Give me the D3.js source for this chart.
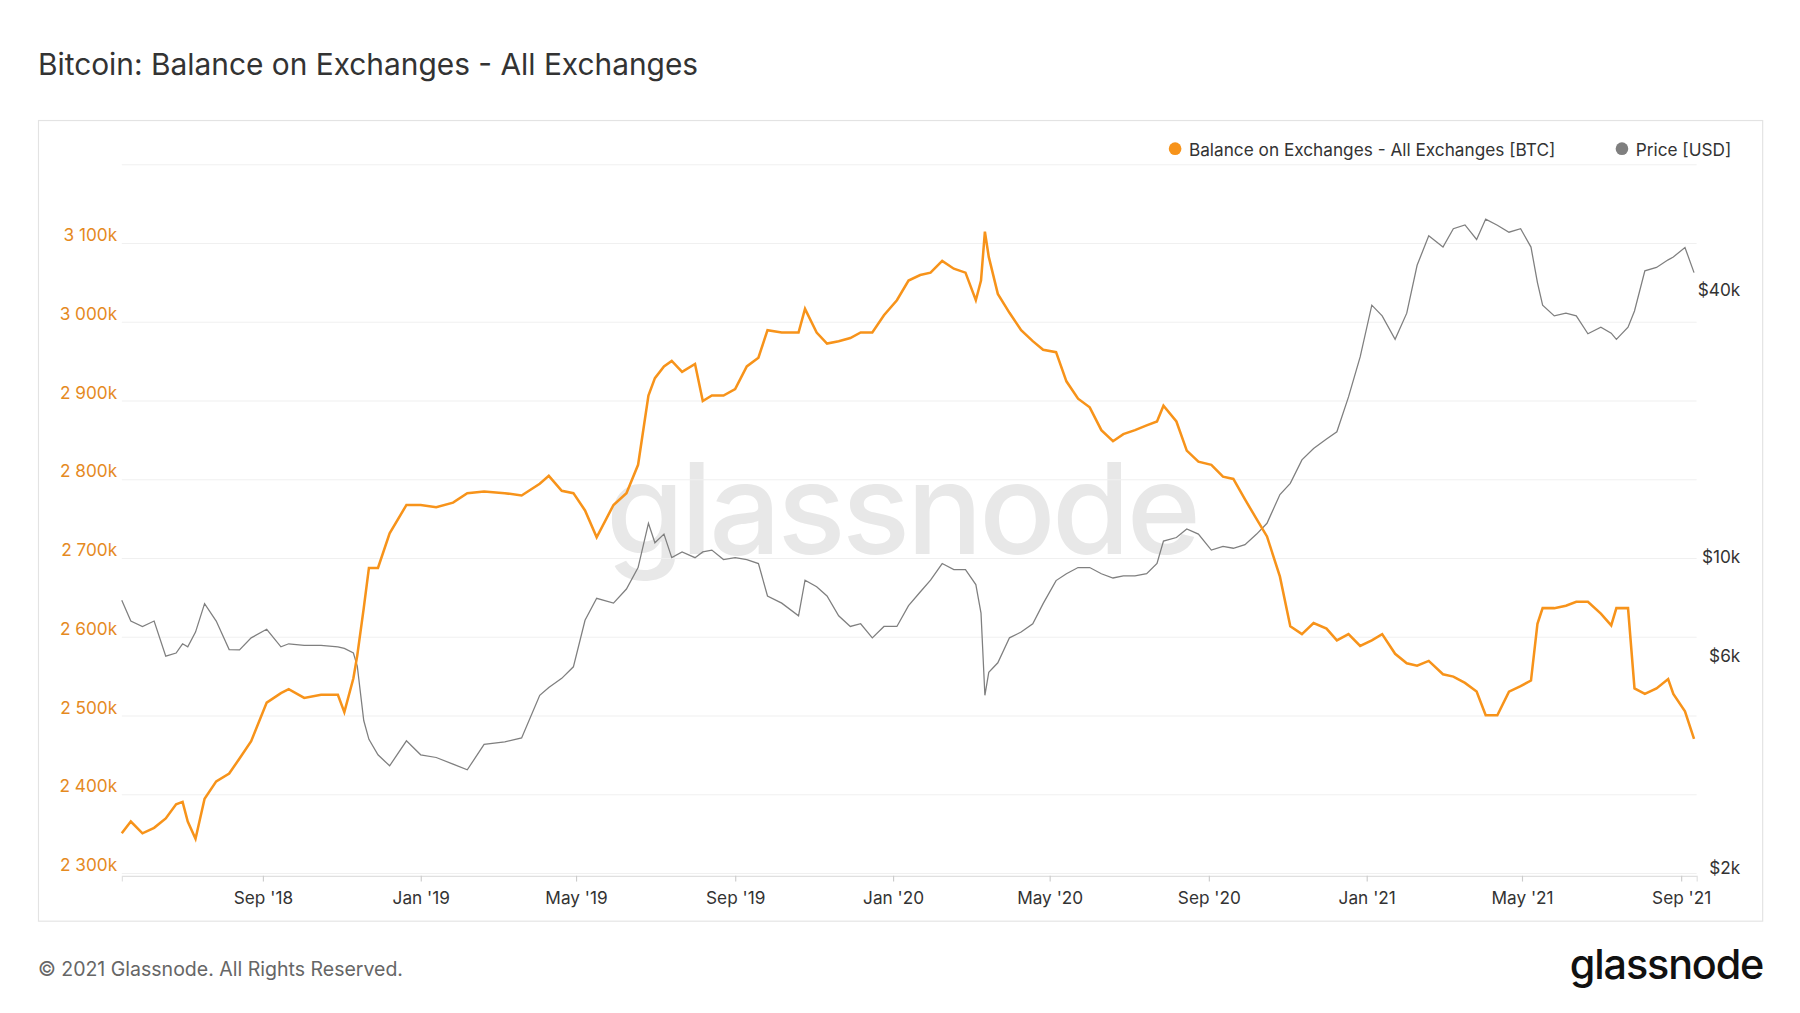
<!DOCTYPE html>
<html><head><meta charset="utf-8">
<script src="https://cdn.jsdelivr.net/npm/d3@7"></script>
<style>body{margin:0;background:#fff}svg{display:block;font-family:Inter,"Noto Sans",sans-serif}</style>
</head><body>
<svg id="chart" width="1800" height="1013" viewBox="0 0 1567 881"></svg>
<script>
var dates = ["2018-05-15","2018-05-22","2018-05-31","2018-06-09","2018-06-18","2018-06-26","2018-07-01","2018-07-05","2018-07-11","2018-07-18","2018-07-27","2018-08-06","2018-08-14","2018-08-23","2018-09-04","2018-09-15","2018-09-21","2018-10-03","2018-10-16","2018-10-29","2018-11-03","2018-11-10","2018-11-13","2018-11-18","2018-11-22","2018-11-29","2018-12-08","2018-12-21","2019-01-01","2019-01-13","2019-01-26","2019-02-06","2019-02-19","2019-03-07","2019-03-20","2019-04-03","2019-04-10","2019-04-20","2019-04-29","2019-05-08","2019-05-17","2019-05-30","2019-06-09","2019-06-18","2019-06-26","2019-07-01","2019-07-08","2019-07-14","2019-07-22","2019-08-01","2019-08-07","2019-08-14","2019-08-23","2019-09-01","2019-09-10","2019-09-19","2019-09-26","2019-10-07","2019-10-20","2019-10-25","2019-11-03","2019-11-11","2019-11-20","2019-11-29","2019-12-07","2019-12-16","2019-12-25","2020-01-04","2020-01-13","2020-01-22","2020-01-30","2020-02-08","2020-02-17","2020-02-26","2020-03-05","2020-03-09","2020-03-12","2020-03-15","2020-03-22","2020-03-31","2020-04-09","2020-04-18","2020-04-26","2020-05-06","2020-05-14","2020-05-23","2020-06-01","2020-06-10","2020-06-19","2020-06-27","2020-07-06","2020-07-15","2020-07-23","2020-07-28","2020-08-07","2020-08-15","2020-08-24","2020-09-03","2020-09-12","2020-09-20","2020-09-29","2020-10-08","2020-10-16","2020-10-26","2020-11-03","2020-11-12","2020-11-21","2020-12-01","2020-12-09","2020-12-18","2020-12-27","2021-01-05","2021-01-13","2021-01-23","2021-02-01","2021-02-09","2021-02-18","2021-03-01","2021-03-09","2021-03-18","2021-03-27","2021-04-03","2021-04-12","2021-04-21","2021-04-30","2021-05-08","2021-05-13","2021-05-17","2021-05-26","2021-06-04","2021-06-12","2021-06-21","2021-07-01","2021-07-09","2021-07-13","2021-07-22","2021-07-27","2021-08-04","2021-08-13","2021-08-22","2021-08-26","2021-09-04","2021-09-11"];

// exchange balance, thousands of BTC
var balance = [2351,2366,2351,2358,2370,2388,2391,2366,2344,2395,2417,2427,2446,2468,2517,2529,2534,2523,2527,2527,2505,2548,2577,2637,2688,2688,2732,2768,2768,2765,2771,2783,2785,2783,2780,2795,2805,2786,2783,2761,2727,2768,2783,2819,2907,2929,2944,2951,2937,2947,2900,2907,2907,2915,2944,2955,2990,2987,2987,3017,2987,2973,2976,2980,2987,2987,3009,3028,3053,3060,3063,3078,3068,3063,3028,3053,3115,3083,3036,3012,2990,2976,2965,2962,2925,2903,2892,2863,2849,2858,2863,2869,2874,2894,2874,2837,2823,2819,2804,2801,2775,2750,2728,2677,2614,2604,2618,2611,2596,2604,2589,2596,2604,2579,2567,2564,2570,2553,2550,2542,2531,2501,2501,2531,2538,2545,2617,2637,2637,2640,2645,2645,2630,2615,2637,2637,2535,2528,2535,2547,2528,2506,2471];

// BTC price, USD
var price = [8020,7200,7000,7200,6000,6100,6400,6300,6800,7880,7200,6210,6200,6600,6900,6300,6400,6350,6350,6300,6250,6100,5700,4300,3900,3600,3400,3870,3600,3550,3430,3330,3800,3850,3930,4900,5100,5350,5680,7230,8100,7900,8500,9500,11950,10800,11300,10000,10300,10000,10300,10400,9900,10000,9900,9700,8200,7900,7400,8900,8600,8200,7400,7000,7100,6600,7000,7000,7800,8370,8900,9700,9400,9400,8700,7500,4900,5520,5800,6600,6800,7100,7880,8880,9200,9500,9500,9200,9000,9100,9100,9200,9700,10900,11100,11600,11300,10400,10600,10500,10700,11300,11950,13870,14700,16600,17600,18500,19200,23000,28300,37000,35000,31000,35500,45500,53000,50000,55000,56100,52000,57800,56000,54000,55000,50000,41600,37000,35000,35500,35000,31900,33000,32000,31000,33000,35900,44200,45000,46800,47500,49900,43800];

var balanceTicks = [2300,2400,2500,2600,2700,2800,2900,3000,3100,3200];
var priceTicks = [2000,6000,10000,40000];
var monthTicks = ["2018-09-01","2019-01-01","2019-05-01","2019-09-01","2020-01-01","2020-05-01","2020-09-01","2021-01-01","2021-05-01","2021-09-01"];

var parse = d3.timeParse("%Y-%m-%d");
var rows = dates.map(function(d, i) { return {date: parse(d), bal: balance[i], price: price[i]}; });

var svg = d3.select("#chart");
var plotLeft = 106, plotRight = 1477, plotTop = 143, plotBottom = 760;

var x = d3.scaleTime().domain([parse("2018-05-15"), parse("2021-09-13")]).range([plotLeft, plotRight]);
var yBal = d3.scaleLinear().domain([2300, 3200]).range([plotBottom, plotTop]);
var yPrice = d3.scaleLog().domain([1946, 76600]).range([plotBottom, plotTop]);

svg.append("text").attr("x", 33).attr("y", 65).attr("font-size", 26).attr("fill", "#333")
  .text("Bitcoin: Balance on Exchanges - All Exchanges");

svg.append("rect").attr("x", 33.5).attr("y", 104.5).attr("width", 1501).attr("height", 697)
  .attr("fill", "none").attr("stroke", "#e3e3e3");

// watermark
svg.append("text").attr("x", 785).attr("y", 482).attr("text-anchor", "middle")
  .attr("font-size", 110).attr("font-weight", 500).attr("fill", "#e8e8e8").attr("letter-spacing", -3)
  .text("glassnode");

// grid + left axis
balanceTicks.forEach(function(t) {
  svg.append("line").attr("x1", plotLeft).attr("x2", plotRight).attr("y1", yBal(t)).attr("y2", yBal(t))
    .attr("stroke", "#f0f0f0");
  if (t < 3200) {
    svg.append("text").attr("x", 102).attr("y", yBal(t) - 2).attr("text-anchor", "end")
      .attr("font-size", 15).attr("fill", "#e58a1f")
      .text(d3.format(",")(t).replace(",", " ") + "k");
  }
});

priceTicks.forEach(function(t) {
  svg.append("text").attr("x", 1515).attr("y", yPrice(t) + 5).attr("text-anchor", "end")
    .attr("font-size", 15).attr("fill", "#333").text("$" + (t / 1000) + "k");
});

// x axis
var xAxis = d3.axisBottom(x).tickValues(monthTicks.map(parse)).tickSize(5)
  .tickFormat(d3.timeFormat("%b '%y"));
var gx = svg.append("g").attr("transform", "translate(0," + (plotBottom + 2) + ")").call(xAxis);
gx.select(".domain").attr("stroke", "#e0e0e0");
gx.selectAll(".tick line").attr("stroke", "#ccc");
gx.selectAll(".tick text").attr("font-size", 15).attr("fill", "#333").attr("dy", "1.1em")
  .attr("font-family", "Inter, 'Noto Sans', sans-serif");

// lines
svg.append("path").datum(rows).attr("fill", "none").attr("stroke", "#7f7f7f").attr("stroke-width", 1.1)
  .attr("d", d3.line().x(function(d) { return x(d.date); }).y(function(d) { return yPrice(d.price); }));
svg.append("path").datum(rows).attr("fill", "none").attr("stroke", "#f7931a").attr("stroke-width", 2.2)
  .attr("d", d3.line().x(function(d) { return x(d.date); }).y(function(d) { return yBal(d.bal); }));

// legend
svg.append("circle").attr("cx", 1023).attr("cy", 129).attr("r", 5.5).attr("fill", "#f7931a");
svg.append("text").attr("x", 1035).attr("y", 135).attr("font-size", 15).attr("fill", "#333")
  .text("Balance on Exchanges - All Exchanges [BTC]");
svg.append("circle").attr("cx", 1412).attr("cy", 129).attr("r", 5.5).attr("fill", "#7f7f7f");
svg.append("text").attr("x", 1424).attr("y", 135).attr("font-size", 15).attr("fill", "#333")
  .text("Price [USD]");

// footer
svg.append("text").attr("x", 33).attr("y", 849).attr("font-size", 17).attr("fill", "#666")
  .text("\u00a9 2021 Glassnode. All Rights Reserved.");
svg.append("text").attr("x", 1535).attr("y", 852).attr("text-anchor", "end").attr("font-size", 36)
  .attr("font-weight", 500).attr("fill", "#111").attr("letter-spacing", -1).text("glassnode");
</script>
</body></html>
